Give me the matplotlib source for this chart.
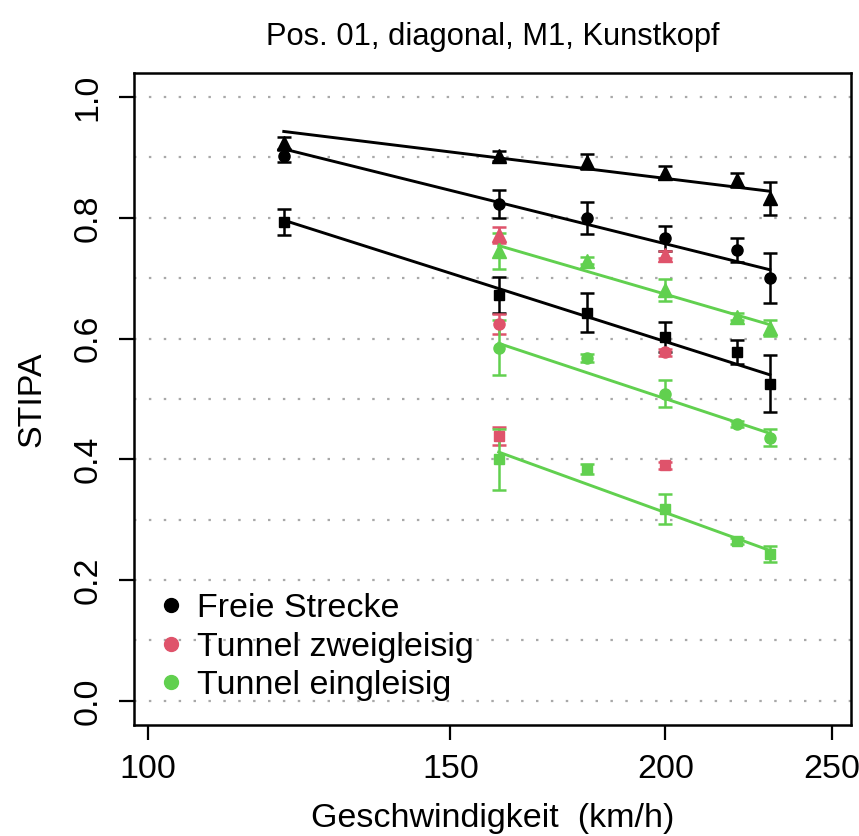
import matplotlib
matplotlib.use("Agg")
import matplotlib.pyplot as plt
from matplotlib.lines import Line2D

# ---- data ----
SPEED_FREI = [120, 160, 180, 200, 220, 230]
SPEED_ZWEI = [160, 200]
SPEED_EIN = [160, 180, 200, 220, 230]

# Freie Strecke (black)
FREI_TRI = [0.924, 0.902, 0.893, 0.875, 0.863, 0.832]
FREI_TRI_ERR = [0.010, 0.008, 0.012, 0.011, 0.012, 0.028]
FREI_CIRC = [0.902, 0.823, 0.800, 0.766, 0.746, 0.700]
FREI_CIRC_ERR = [0.010, 0.023, 0.026, 0.021, 0.020, 0.041]
FREI_SQ = [0.793, 0.672, 0.643, 0.602, 0.578, 0.525]
FREI_SQ_ERR = [0.022, 0.030, 0.032, 0.025, 0.020, 0.047]

# Tunnel zweigleisig (red)
ZWEI_TRI = [0.772, 0.739]
ZWEI_TRI_ERR = [0.013, 0.006]
ZWEI_CIRC = [0.624, 0.577]
ZWEI_CIRC_ERR = [0.016, 0.006]
ZWEI_SQ = [0.438, 0.390]
ZWEI_SQ_ERR = [0.015, 0.006]

# Tunnel eingleisig (green)
EIN_TRI = [0.745, 0.729, 0.680, 0.636, 0.618]
EIN_TRI_ERR = [0.030, 0.006, 0.018, 0.006, 0.013]
EIN_CIRC = [0.585, 0.568, 0.509, 0.458, 0.436]
EIN_CIRC_ERR = [0.045, 0.006, 0.023, 0.005, 0.014]
EIN_SQ = [0.400, 0.384, 0.318, 0.265, 0.243]
EIN_SQ_ERR = [0.050, 0.008, 0.025, 0.005, 0.013]

# regression lines (value at first and last speed)
FIT_FREI = {"^": (0.943, 0.844), "o": (0.914, 0.714), "s": (0.796, 0.540)}
FIT_EIN = {"^": (0.754, 0.623), "o": (0.592, 0.443), "s": (0.412, 0.249)}

LEGEND = ["Freie Strecke", "Tunnel zweigleisig", "Tunnel eingleisig"]
XTICKS = [100, 150, 200, 250]
YTICKS = [0.0, 0.2, 0.4, 0.6, 0.8, 1.0]
GRID_Y = [i / 10 for i in range(11)]

BLACK = "#000000"
RED = "#DF536B"
GREEN = "#61D04F"

plt.rcParams.update({"font.family": ["Liberation Sans", "DejaVu Sans"]})

fig = plt.figure(figsize=(8.59, 8.36), dpi=100)
ax = fig.add_axes([0.156, 0.1328, 0.835, 0.780])
ax.set_xscale("log")

for g in GRID_Y:
    ax.axhline(g, color="#a8a8a8", lw=1.6, ls=(0, (1.1, 5.6)), zorder=0)

MS = {"^": 10, "o": 8, "s": 7.5}


def draw(speeds, series, color, fits=None):
    for marker, (vals, errs) in series.items():
        ax.errorbar(speeds, vals, yerr=errs, fmt=marker, color=color,
                    ms=MS[marker], capsize=4.8, capthick=1.8, elinewidth=1.8,
                    zorder=3)
        if fits is not None:
            a, b = fits[marker]
            ax.plot([speeds[0], speeds[-1]], [a, b], color=color, lw=2.1,
                    zorder=2)


draw(SPEED_FREI, {"^": (FREI_TRI, FREI_TRI_ERR), "o": (FREI_CIRC, FREI_CIRC_ERR),
                  "s": (FREI_SQ, FREI_SQ_ERR)}, BLACK, FIT_FREI)
draw(SPEED_ZWEI, {"^": (ZWEI_TRI, ZWEI_TRI_ERR), "o": (ZWEI_CIRC, ZWEI_CIRC_ERR),
                  "s": (ZWEI_SQ, ZWEI_SQ_ERR)}, RED)
draw(SPEED_EIN, {"^": (EIN_TRI, EIN_TRI_ERR), "o": (EIN_CIRC, EIN_CIRC_ERR),
                 "s": (EIN_SQ, EIN_SQ_ERR)}, GREEN, FIT_EIN)

ax.set_xlim(98.2, 256.5)
ax.set_ylim(-0.04, 1.04)
ax.set_xticks(XTICKS)
ax.set_xticklabels([str(t) for t in XTICKS])
ax.xaxis.set_minor_locator(matplotlib.ticker.NullLocator())
ax.set_yticks(YTICKS)
ax.set_yticklabels([f"{t:.1f}" for t in YTICKS], rotation=90, va="center")
ax.tick_params(axis="both", labelsize=24.5, length=11, width=1.6, direction="out")
ax.tick_params(axis="x", pad=10)
ax.tick_params(axis="y", pad=11)
for sp in ax.spines.values():
    sp.set_linewidth(1.8)

ax.set_xlabel("Geschwindigkeit  (km/h)", fontsize=24.5, labelpad=13)
ax.set_ylabel("STIPA", fontsize=24.5, labelpad=18)
ax.set_title("Pos. 01, diagonal, M1, Kunstkopf", fontsize=22.2, pad=20)

handles = [Line2D([], [], ls="none", marker="o", color=c, ms=10)
           for c in (BLACK, RED, GREEN)]
ax.legend(handles, LEGEND, loc="lower left", bbox_to_anchor=(0.0, 0.0),
          frameon=False, fontsize=24.5, handlelength=0.8, handletextpad=0.35,
          labelspacing=0.22, borderaxespad=0.3)

fig.savefig("out.png", dpi=100)
